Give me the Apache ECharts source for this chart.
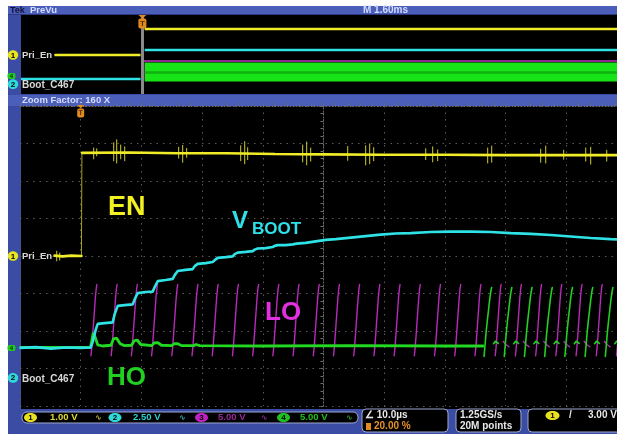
<!DOCTYPE html>
<html><head><meta charset="utf-8">
<script src="https://cdn.jsdelivr.net/npm/echarts/dist/echarts.min.js"></script>
<style>html,body{margin:0;padding:0;background:#fff}#c{width:617px;height:434px}</style>
</head><body><div id="c"></div>
<script>
// ===== Main (zoom) window: time in µs (trigger = 0), amplitude in screen divisions =====
const enTrace = [[-4.3,0.01],[-3.0,-0.01],[-1.5,0.01],[0.12,0.0],[0.16,'-'],[0.25,2.75],[8,2.76],[16,2.74],[24,2.74],[32,2.72],[40,2.71],[50,2.70],[60,2.70],[70,2.69],[80,2.69],[90,2.69]];
const enEdge = [[0.12,0.0],[0.2,2.75]];
// [time, top, bottom] of the small glitches on EN
const enSpikes = [[-3.95,0.13,-0.13],[-3.46,0.08,-0.11],[2.14,2.88,2.59],[2.64,2.86,2.67],[5.44,3.02,2.54],[5.93,3.10,2.48],[6.59,2.96,2.59],[7.25,2.91,2.54],[16.14,2.90,2.61],[16.80,2.95,2.50],[17.46,2.87,2.63],[26.36,2.94,2.54],[27.02,3.05,2.46],[27.51,2.89,2.57],[36.57,2.96,2.51],[37.23,3.04,2.43],[37.89,2.88,2.53],[43.99,2.92,2.55],[46.95,2.94,2.43],[47.61,2.99,2.46],[48.27,2.89,2.54],[56.84,2.86,2.57],[57.99,2.91,2.51],[58.81,2.83,2.54],[67.05,2.88,2.48],[67.71,2.93,2.50],[75.78,2.85,2.50],[76.61,2.93,2.48],[79.57,2.82,2.58],[83.20,2.88,2.53],[84.02,2.90,2.45],[86.66,2.82,2.53]];
const vboot = [[-9.9,-2.45],[-7.4,-2.43],[-4.9,-2.47],[-2.5,-2.44],[0,-2.45],[1.65,-2.44],[1.98,-2.29],[2.47,-1.97],[2.80,-1.81],[3.95,-1.79],[5.27,-1.77],[5.60,-1.55],[6.10,-1.33],[7.25,-1.31],[8.57,-1.29],[8.90,-1.15],[9.39,-0.99],[10.71,-0.96],[11.86,-0.95],[12.19,-0.83],[12.69,-0.67],[14.00,-0.64],[15.16,-0.61],[15.49,-0.51],[15.98,-0.40],[17.30,-0.37],[18.45,-0.35],[18.78,-0.27],[19.28,-0.21],[20.59,-0.19],[21.75,-0.16],[22.08,-0.11],[22.57,-0.05],[23.89,-0.03],[25.04,-0.01],[25.37,0.05],[25.86,0.09],[27.18,0.11],[28.34,0.13],[28.67,0.17],[29.16,0.20],[30.48,0.21],[31.63,0.24],[31.96,0.27],[32.45,0.29],[33.77,0.29],[34.93,0.31],[35.58,0.33],[37.07,0.35],[38.71,0.39],[40.36,0.43],[42.01,0.45],[44.48,0.49],[46.95,0.53],[49.42,0.57],[51.89,0.60],[54.37,0.61],[57.66,0.64],[60.96,0.65],[64.25,0.65],[67.55,0.64],[70.84,0.61],[74.14,0.59],[77.43,0.56],[80.72,0.52],[84.02,0.48],[87.31,0.45],[90,0.43]];
const loPulses = [2.14,5.47,8.80,12.13,15.46,18.79,22.12,25.45,28.78,32.11,35.44,38.77,42.10,45.43,48.76,52.09,55.42,58.75,62.08,65.41,68.74,72.07,75.40,78.73,82.06,85.39,88.72];
const loStroke = [[-0.45,-2.66],[-0.32,-2.45],[-0.18,-2.15],[-0.02,-1.78],[0.14,-1.42],[0.28,-1.10],[0.42,-0.87],[0.52,-0.76]];
const loHook = [[0.9,-2.28],[1.3,-2.36],[1.8,-2.42]];
const hoFlat = [[-9.9,-2.44],[1.6,-2.44],[1.85,-2.25],[2.05,-2.05],[2.4,-2.17],[2.8,-2.37],[3.6,-2.40],[5.0,-2.38],[5.4,-2.21],[5.9,-2.19],[6.5,-2.34],[7.2,-2.39],[8.4,-2.38],[8.8,-2.26],[9.3,-2.24],[9.9,-2.36],[11.7,-2.39],[12.1,-2.32],[12.7,-2.31],[13.3,-2.38],[15.0,-2.39],[15.4,-2.34],[16.0,-2.34],[16.6,-2.39],[18.6,-2.39],[19.0,-2.36],[19.6,-2.39],[30,-2.40],[45,-2.39],[60,-2.40],[66.3,-2.40]];
const hoPulses = [67.2,70.53,73.86,77.19,80.52,83.85,87.18];
const hoStroke = [[-0.75,-2.68],[-0.6,-2.40],[-0.42,-2.05],[-0.2,-1.70],[0,-1.42],[0.2,-1.13],[0.38,-0.93],[0.5,-0.84]];
const hoHook = [[0.8,-2.34],[1.15,-2.27],[1.6,-2.33]];
// ===== PreVu window: time in ms (trigger = 0), amplitude in screen divisions (0..8) =====
const pvEn = [[-2.32,3.95],[-0.05,3.95],[0,'-'],[0.06,6.58],[12.8,6.58]];
const pvBoot = [[-3.2,1.52],[-0.05,1.52],[0,'-'],[0.06,4.46],[12.8,4.46]];
const pvLo = [[0.03,1.42],[0.03,3.34],[12.8,3.34]];
const pvHo = [[0.06,2.23],[12.8,2.23]];
const pvHoMid = [[0.06,2.18],[12.8,2.18]];
// channel ground markers
const mainMarks = [{ch:'1',lvl:0,col:'#e8e420',name:'Pri_En'},{ch:'4',lvl:-2.45,col:'#22c822'},{ch:'2',lvl:-3.25,col:'#30d8dc',name:'Boot_C467'}];
const pvMarks = [{ch:'1',lvl:3.95,col:'#e8e420',name:'Pri_En'},{ch:'4',lvl:1.82,col:'#22c822'},{ch:'2',lvl:1.0,col:'#30d8dc',name:'Boot_C467'}];

const F = '"Liberation Sans", Arial, sans-serif';
function pulses(times, stroke, hook, hookFrom) {
  const out = [];
  times.forEach(t0 => {
    stroke.forEach(([dt, v]) => out.push([+(t0 + dt).toFixed(3), v]));
    out.push([t0, '-']);
    if (t0 > hookFrom) { hook.forEach(([dt, v]) => out.push([+(t0 + dt).toFixed(3), v])); out.push([t0, '-']); }
  });
  return out;
}
const spikeData = [];
enSpikes.forEach(([t, a, b]) => { spikeData.push([t, a], [t, b], [t, '-']); });

const chart = echarts.init(document.getElementById('c'));
const ln = (data, color, width, x, y, extra) => Object.assign({type:'line', data, xAxisIndex:x, yAxisIndex:y, showSymbol:false, symbol:'none', animation:false, silent:true, connectNulls:false, lineStyle:{color, width, cap:'round'}}, extra||{});
const gridAx = {color:'#6c6c6c'};
const option = {
  animation:false,
  backgroundColor:'#ffffff',
  grid:[
    {left:20, top:106, width:607, height:300, containLabel:false, outerBoundsMode:'none', show:false},
    {left:21, top:15, width:607, height:79, containLabel:false, outerBoundsMode:'none', show:false}
  ],
  xAxis:[
    {gridIndex:0, type:'value', min:-10, max:90, show:false},
    {gridIndex:0, type:'value', min:-5, max:5, interval:1,
     axisLine:{show:true, onZero:true, lineStyle:{color:'#6c6c6c', width:1, type:[1,2]}},
     axisTick:{show:true, length:3, lineStyle:gridAx}, minorTick:{show:true, splitNumber:5, length:3, lineStyle:gridAx},
     axisLabel:{show:false}, splitLine:{show:true, lineStyle:{color:'#5a5a5a', width:1, type:[1.5,5]}}},
    {gridIndex:1, type:'value', min:-3.2, max:12.8, show:false}
  ],
  yAxis:[
    {gridIndex:0, type:'value', min:-4, max:4, interval:1,
     axisLine:{show:true, onZero:true, onZeroAxisIndex:1, lineStyle:{color:'#6c6c6c', width:1, type:[1,2]}},
     axisTick:{show:true, length:3, lineStyle:gridAx}, minorTick:{show:true, splitNumber:5, length:3, lineStyle:gridAx},
     axisLabel:{show:false}, splitLine:{show:true, lineStyle:{color:'#5a5a5a', width:1, type:[1.5,5]}}},
    {gridIndex:1, type:'value', min:0, max:8, show:false}
  ],
  series:[
    ln(pulses(loPulses, loStroke, loHook, 66), '#b82ab8', 1.4, 0, 0),
    ln(hoFlat, '#22d822', 2.8, 0, 0),
    ln(pulses(hoPulses, hoStroke, hoHook, 0), '#22d022', 1.6, 0, 0),
    ln(vboot, '#2ee2e6', 2.6, 0, 0),
    ln(enEdge, '#a8a420', 1, 0, 0),
    ln(spikeData, '#d0cc2a', 1, 0, 0),
    ln(enTrace, '#f0ec28', 2.6, 0, 0),
    ln(pvHo, '#16e416', 19, 2, 1, {lineStyle:{color:'#16e416', width:19, cap:'butt'},
      markLine:{silent:true, symbol:'none', animation:false, label:{show:false}, lineStyle:{color:'#8a8a8a', width:3, type:'solid'}, data:[{xAxis:0}]}}),
    ln(pvHoMid, '#10b010', 2.5, 2, 1, {lineStyle:{color:'#10b010', width:2.5, cap:'butt'}}),
    ln(pvLo, '#c030c0', 1.5, 2, 1, {lineStyle:{color:'#c030c0', width:1.5, cap:'butt'}}),
    ln(pvBoot, '#2ee2e6', 2.5, 2, 1, {lineStyle:{color:'#2ee2e6', width:2.5, cap:'butt'}}),
    ln(pvEn, '#f0ec28', 2.6, 2, 1, {lineStyle:{color:'#f0ec28', width:2.6, cap:'butt'}})
  ]
};
chart.setOption(option);

const mainPx = (t, v) => chart.convertToPixel({seriesIndex:6}, [t, v]);
const pvPx = (t, v) => chart.convertToPixel({seriesIndex:11}, [t, v]);

const G = [];
const R = (x,y,w,h,fill,o={}) => { const st = {fill}; if (o.stroke) { st.stroke = o.stroke; st.lineWidth = o.lw || 1; } G.push({type:'rect', z:(o.z!==undefined?o.z:-90), silent:true, shape:{x,y,width:w,height:h,r:o.r||0}, style:st}); };
const T = (x,y,s,size,fill,o={}) => G.push({type:'text', z:(o.z!==undefined?o.z:100), silent:true, style:{x,y,text:s,font:(o.w||'bold')+' '+size+'px '+(o.f||F), fill, textAlign:o.a||'left', textVerticalAlign:o.v||'middle'}});
const E = (cx,cy,rx,ry,fill) => G.push({type:'ellipse', z:100, silent:true, shape:{cx,cy,rx,ry}, style:{fill}});
const P = (pts, fill) => G.push({type:'polygon', z:100, silent:true, shape:{points:pts}, style:{fill}});

// frame & panels
R(8,6,609,428,'#3b4ca4',{z:-100});
R(8,6,609,9,'#4b5fba',{z:-99});
R(8,14,609,1,'#2c3880',{z:-99});
R(21,15,596,79,'#000',{z:-98});
R(8,95,609,11,'#4b5fba',{z:-99});
R(21,106,596,303,'#000',{z:-98});
T(10,10.5,'Tek',9,'#141438');
T(30,10.5,'PreVu',9.5,'#d4dcff');
T(363,10.5,'M 1.60ms',10,'#d4dcff');
T(22,100.5,'Zoom Factor: 160 X',9.5,'#d4dcff');

// readouts
R(22,412,336,11,'#000',{z:-80,r:5,stroke:'#a0a8d0',lw:1});
const pill = (cx,cy,col,ch) => { E(cx,cy,6.5,4.6,col); T(cx,cy+0.5,ch,8,'#000',{a:'center'}); };
pill(30.5,417.5,'#e8e020','1'); T(50,417.5,'1.00 V',9.5,'#e0dc30'); T(95,417.5,'∿',8,'#c0bc30',{f:'"DejaVu Sans"'});
pill(115,417.5,'#30d8d8','2'); T(133,417.5,'2.50 V',9.5,'#30d0d0'); T(179,417.5,'∿',8,'#30b0b0',{f:'"DejaVu Sans"'});
pill(201.5,417.5,'#c020c0','3'); T(218,417.5,'5.00 V',9.5,'#9a289a'); T(261,417.5,'∿',8,'#902890',{f:'"DejaVu Sans"'});
pill(283.5,417.5,'#20c020','4'); T(300,417.5,'5.00 V',9.5,'#20c020'); T(346,417.5,'∿',8,'#20a020',{f:'"DejaVu Sans"'});
R(362,409,86,23,'#000',{z:-80,r:4,stroke:'#a0a8d0',lw:1});
T(365,415.5,'∠ 10.0µs',10,'#e8e8e8');
R(366,423,5,7,'#e08a20',{z:100});
T(374,426.5,'20.00 %',10,'#e8902a');
R(456,409,65,23,'#000',{z:-80,r:4,stroke:'#a0a8d0',lw:1});
T(460,415.5,'1.25GS/s',10,'#e8e8e8');
T(460,426.5,'20M points',10,'#e8e8e8');
R(528,409,100,23,'#000',{z:-80,r:4,stroke:'#a0a8d0',lw:1});
E(552.5,415.5,7,4.6,'#e8e020'); T(552.5,416,'1',8,'#000',{a:'center'});
T(569,415.5,'/',10,'#e8e8e8');
T(588,415.5,'3.00 V',10,'#e8e8e8');

// annotations
T(108,208,'EN',27,'#f2f020');
T(232,221.5,'V',24,'#2ee0e8');
T(252,229,'BOOT',17,'#2ee0e8');
T(265,312.5,'LO',26,'#e030e0');
T(107,377.5,'HO',26,'#22d022');

// channel markers
function marks(list, conv) {
  list.forEach(m => {
    const y = conv(0, m.lvl)[1];
    if (m.ch === '4') { R(7.5,y-3,8,6,m.col,{z:100,r:2}); T(11.5,y+0.3,'4',6,'#063006',{a:'center'}); }
    else { E(13,y,5.2,4.8,m.col); T(13,y+0.4,m.ch,8,'#000',{a:'center'}); }
    if (m.name) T(22, m.ch==='2'? y+1 : y, m.name, m.ch==='2'?10:9.5, '#d8d8d8');
  });
}
marks(mainMarks, mainPx);
marks(pvMarks, pvPx);

// trigger markers
const tm = mainPx(0, 0)[0];
P([[tm-3.5,105],[tm+3.5,105],[tm,108.5]],'#e08a20');
R(tm-3.5,108.5,7,9,'#e08a20',{z:100,r:2});
T(tm,113.5,'T',7,'#5a3000',{a:'center'});
const tp = pvPx(0, 0)[0];
P([[tp-4,15],[tp+4,15],[tp,18.5]],'#e08a20');
R(tp-4,18.5,8,10,'#e08a20',{z:100,r:2});
T(tp,24,'T',8,'#5a3000',{a:'center'});

chart.setOption({graphic:[{elements:G}]});
</script></body></html>
